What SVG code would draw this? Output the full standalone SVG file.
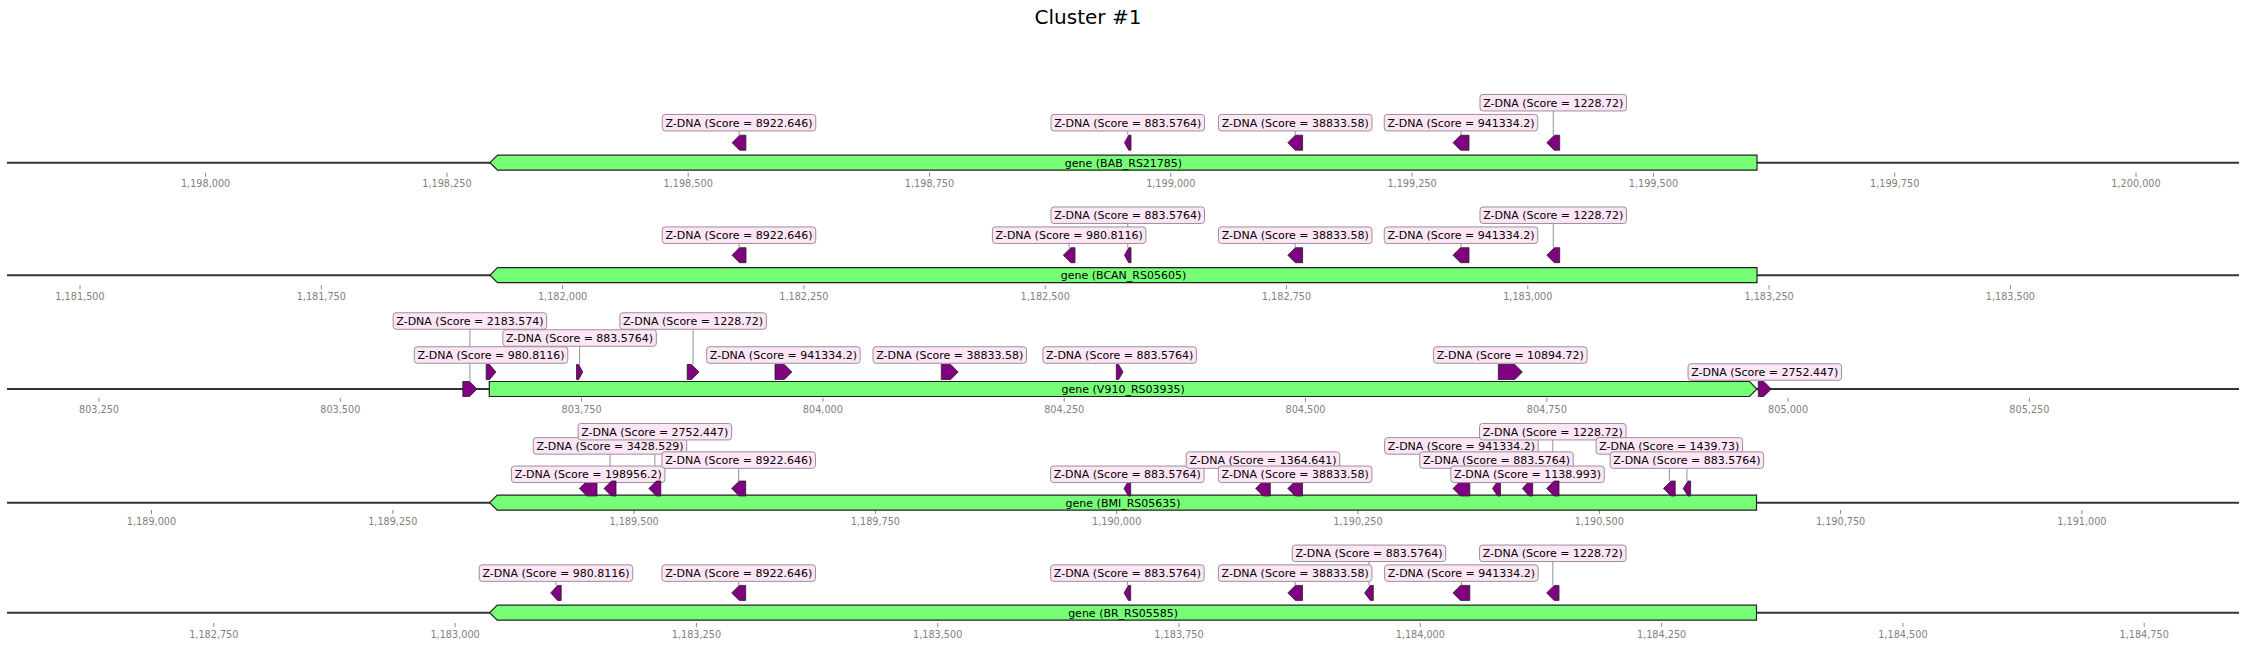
<svg xmlns="http://www.w3.org/2000/svg" width="2246" height="647" viewBox="0 0 2246 647">
<style>
text{font-family:"DejaVu Sans","Liberation Sans",sans-serif;}
.title{font-size:20px;fill:#000;text-anchor:middle;}
.axis{stroke:#333;stroke-width:2;fill:none;}
.tick{stroke:#888;stroke-width:1;}
.tl{font-size:9.7px;fill:#808080;text-anchor:middle;}
.gene{fill:#76ff76;stroke:#222;stroke-width:1.2;}
.gl{font-size:11px;fill:#000;text-anchor:middle;}
.feat{fill:#800080;stroke:#222;stroke-width:0.8;}
.box{fill:#ffe6f7;stroke:#9a8f99;stroke-width:1;}
.lt{font-size:11px;fill:#000;text-anchor:middle;}
.con{stroke:#777;stroke-width:0.8;}
</style>
<text class="title" x="1088" y="24">Cluster #1</text>

<g id="axes">
<line class="axis" x1="7" y1="162.7" x2="2239" y2="162.7"/>
<line class="axis" x1="7" y1="275.2" x2="2239" y2="275.2"/>
<line class="axis" x1="7" y1="389" x2="2239" y2="389"/>
<line class="axis" x1="7" y1="502.7" x2="2239" y2="502.7"/>
<line class="axis" x1="7" y1="612.7" x2="2239" y2="612.7"/>
</g>

<g id="ticks">
<g transform="translate(205.6,172.7)">
<path class="tick" d="M0,0v4M241.3,0v4M482.6,0v4M723.9,0v4M965.2,0v4M1206.5,0v4M1447.8,0v4M1689.1,0v4M1930.4,0v4"/>
<text class="tl" x="0" y="14.8">1,198,000</text><text class="tl" x="241.3" y="14.8">1,198,250</text><text class="tl" x="482.6" y="14.8">1,198,500</text><text class="tl" x="723.9" y="14.8">1,198,750</text><text class="tl" x="965.2" y="14.8">1,199,000</text><text class="tl" x="1206.5" y="14.8">1,199,250</text><text class="tl" x="1447.8" y="14.8">1,199,500</text><text class="tl" x="1689.1" y="14.8">1,199,750</text><text class="tl" x="1930.4" y="14.8">1,200,000</text>
</g>
<g transform="translate(80,285.2)">
<path class="tick" d="M0,0v4M241.3,0v4M482.6,0v4M723.9,0v4M965.2,0v4M1206.5,0v4M1447.8,0v4M1689.1,0v4M1930.4,0v4"/>
<text class="tl" x="0" y="14.8">1,181,500</text><text class="tl" x="241.3" y="14.8">1,181,750</text><text class="tl" x="482.6" y="14.8">1,182,000</text><text class="tl" x="723.9" y="14.8">1,182,250</text><text class="tl" x="965.2" y="14.8">1,182,500</text><text class="tl" x="1206.5" y="14.8">1,182,750</text><text class="tl" x="1447.8" y="14.8">1,183,000</text><text class="tl" x="1689.1" y="14.8">1,183,250</text><text class="tl" x="1930.4" y="14.8">1,183,500</text>
</g>
<g transform="translate(99,397.8)">
<path class="tick" d="M0,0v4M241.3,0v4M482.6,0v4M723.9,0v4M965.2,0v4M1206.5,0v4M1447.8,0v4M1689.1,0v4M1930.4,0v4"/>
<text class="tl" x="0" y="14.8">803,250</text><text class="tl" x="241.3" y="14.8">803,500</text><text class="tl" x="482.6" y="14.8">803,750</text><text class="tl" x="723.9" y="14.8">804,000</text><text class="tl" x="965.2" y="14.8">804,250</text><text class="tl" x="1206.5" y="14.8">804,500</text><text class="tl" x="1447.8" y="14.8">804,750</text><text class="tl" x="1689.1" y="14.8">805,000</text><text class="tl" x="1930.4" y="14.8">805,250</text>
</g>
<g transform="translate(151.5,510)">
<path class="tick" d="M0,0v4M241.3,0v4M482.6,0v4M723.9,0v4M965.2,0v4M1206.5,0v4M1447.8,0v4M1689.1,0v4M1930.4,0v4"/>
<text class="tl" x="0" y="14.8">1,189,000</text><text class="tl" x="241.3" y="14.8">1,189,250</text><text class="tl" x="482.6" y="14.8">1,189,500</text><text class="tl" x="723.9" y="14.8">1,189,750</text><text class="tl" x="965.2" y="14.8">1,190,000</text><text class="tl" x="1206.5" y="14.8">1,190,250</text><text class="tl" x="1447.8" y="14.8">1,190,500</text><text class="tl" x="1689.1" y="14.8">1,190,750</text><text class="tl" x="1930.4" y="14.8">1,191,000</text>
</g>
<g transform="translate(213.8,622.9)">
<path class="tick" d="M0,0v4M241.3,0v4M482.6,0v4M723.9,0v4M965.2,0v4M1206.5,0v4M1447.8,0v4M1689.1,0v4M1930.4,0v4"/>
<text class="tl" x="0" y="14.8">1,182,750</text><text class="tl" x="241.3" y="14.8">1,183,000</text><text class="tl" x="482.6" y="14.8">1,183,250</text><text class="tl" x="723.9" y="14.8">1,183,500</text><text class="tl" x="965.2" y="14.8">1,183,750</text><text class="tl" x="1206.5" y="14.8">1,184,000</text><text class="tl" x="1447.8" y="14.8">1,184,250</text><text class="tl" x="1689.1" y="14.8">1,184,500</text><text class="tl" x="1930.4" y="14.8">1,184,750</text>
</g>
</g>

<g id="connectors">
<line class="con" x1="739" y1="130.95" x2="739" y2="135.2"/>
<line class="con" x1="1127.75" y1="130.95" x2="1127.75" y2="135.2"/>
<line class="con" x1="1295.2" y1="130.95" x2="1295.2" y2="135.2"/>
<line class="con" x1="1461" y1="130.95" x2="1461" y2="135.2"/>
<line class="con" x1="1553.25" y1="110.95" x2="1553.25" y2="135.2"/>

<line class="con" x1="739" y1="243.45" x2="739" y2="247.7"/>
<line class="con" x1="1069.15" y1="243.45" x2="1069.15" y2="247.7"/>
<line class="con" x1="1127.75" y1="223.45" x2="1127.75" y2="247.7"/>
<line class="con" x1="1295.2" y1="243.45" x2="1295.2" y2="247.7"/>
<line class="con" x1="1461" y1="243.45" x2="1461" y2="247.7"/>
<line class="con" x1="1553.25" y1="223.45" x2="1553.25" y2="247.7"/>

<line class="con" x1="469.9" y1="329.25" x2="469.9" y2="381.5"/>
<line class="con" x1="579.6" y1="346.25" x2="579.6" y2="364.5"/>
<line class="con" x1="693.1" y1="329.25" x2="693.1" y2="364.5"/>

<line class="con" x1="610" y1="454.15" x2="610" y2="481"/>
<line class="con" x1="654.85" y1="439.95" x2="654.85" y2="481"/>
<line class="con" x1="738.7" y1="468.35" x2="738.7" y2="481"/>
<line class="con" x1="1263" y1="468.35" x2="1263" y2="481"/>
<line class="con" x1="1461.4" y1="454.15" x2="1461.4" y2="481"/>
<line class="con" x1="1496.5" y1="468.35" x2="1496.5" y2="481"/>
<line class="con" x1="1552.8" y1="439.95" x2="1552.8" y2="481"/>
<line class="con" x1="1669.35" y1="454.15" x2="1669.35" y2="481"/>
<line class="con" x1="1686.9" y1="468.35" x2="1686.9" y2="481"/>

<line class="con" x1="555.95" y1="581.35" x2="555.95" y2="585.4"/>
<line class="con" x1="738.7" y1="581.35" x2="738.7" y2="585.4"/>
<line class="con" x1="1127.4" y1="581.35" x2="1127.4" y2="585.4"/>
<line class="con" x1="1295.15" y1="581.35" x2="1295.15" y2="585.4"/>
<line class="con" x1="1368.95" y1="561.55" x2="1368.95" y2="585.4"/>
<line class="con" x1="1461.4" y1="581.35" x2="1461.4" y2="585.4"/>
<line class="con" x1="1552.8" y1="561.55" x2="1552.8" y2="585.4"/>
</g>

<!-- Row 1 -->
<g id="gene-BAB_RS21785">
<polygon class="gene" points="490,162.7 497.5,155.2 1757,155.2 1757,170.2 497.5,170.2"/>
<text class="gl" x="1123.5" y="166.5">gene (BAB_RS21785)</text>
</g>
<g id="r1-f1"><polygon class="feat" points="732.1,142.7 739.6,135.2 745.9,135.2 745.9,150.2 739.6,150.2"/><rect class="box" x="662.25" y="114.45" width="153.5" height="16.5" rx="3"/><text class="lt" x="739" y="126.5">Z-DNA (Score = 8922.646)</text></g>
<g id="r1-f2"><polygon class="feat" points="1124.5,142.7 1128.7,135.2 1131,135.2 1131,150.2 1128.7,150.2"/><rect class="box" x="1051" y="114.45" width="153.5" height="16.5" rx="3"/><text class="lt" x="1127.75" y="126.5">Z-DNA (Score = 883.5764)</text></g>
<g id="r1-f3"><polygon class="feat" points="1287.8,142.7 1295.3,135.2 1302.6,135.2 1302.6,150.2 1295.3,150.2"/><rect class="box" x="1218.45" y="114.45" width="153.5" height="16.5" rx="3"/><text class="lt" x="1295.2" y="126.5">Z-DNA (Score = 38833.58)</text></g>
<g id="r1-f4"><polygon class="feat" points="1453,142.7 1460.5,135.2 1469,135.2 1469,150.2 1460.5,150.2"/><rect class="box" x="1384.25" y="114.45" width="153.5" height="16.5" rx="3"/><text class="lt" x="1461" y="126.5">Z-DNA (Score = 941334.2)</text></g>
<g id="r1-f5"><polygon class="feat" points="1546.8,142.7 1554.3,135.2 1559.7,135.2 1559.7,150.2 1554.3,150.2"/><rect class="box" x="1480" y="94.45" width="146.5" height="16.5" rx="3"/><text class="lt" x="1553.25" y="106.5">Z-DNA (Score = 1228.72)</text></g>

<!-- Row 2 -->
<g id="gene-BCAN_RS05605">
<polygon class="gene" points="490,275.2 497.5,267.7 1757,267.7 1757,282.7 497.5,282.7"/>
<text class="gl" x="1123.5" y="279">gene (BCAN_RS05605)</text>
</g>
<g id="r2-f1"><polygon class="feat" points="732,255.2 739.5,247.7 746,247.7 746,262.7 739.5,262.7"/><rect class="box" x="662.25" y="226.95" width="153.5" height="16.5" rx="3"/><text class="lt" x="739" y="239">Z-DNA (Score = 8922.646)</text></g>
<g id="r2-f2"><polygon class="feat" points="1063.3,255.2 1070.8,247.7 1075,247.7 1075,262.7 1070.8,262.7"/><rect class="box" x="992.4" y="226.95" width="153.5" height="16.5" rx="3"/><text class="lt" x="1069.15" y="239">Z-DNA (Score = 980.8116)</text></g>
<g id="r2-f3"><polygon class="feat" points="1124.5,255.2 1128.7,247.7 1131,247.7 1131,262.7 1128.7,262.7"/><rect class="box" x="1051" y="206.95" width="153.5" height="16.5" rx="3"/><text class="lt" x="1127.75" y="219">Z-DNA (Score = 883.5764)</text></g>
<g id="r2-f4"><polygon class="feat" points="1287.8,255.2 1295.3,247.7 1302.6,247.7 1302.6,262.7 1295.3,262.7"/><rect class="box" x="1218.45" y="226.95" width="153.5" height="16.5" rx="3"/><text class="lt" x="1295.2" y="239">Z-DNA (Score = 38833.58)</text></g>
<g id="r2-f5"><polygon class="feat" points="1453,255.2 1460.5,247.7 1469,247.7 1469,262.7 1460.5,262.7"/><rect class="box" x="1384.25" y="226.95" width="153.5" height="16.5" rx="3"/><text class="lt" x="1461" y="239">Z-DNA (Score = 941334.2)</text></g>
<g id="r2-f6"><polygon class="feat" points="1546.8,255.2 1554.3,247.7 1559.7,247.7 1559.7,262.7 1554.3,262.7"/><rect class="box" x="1480" y="206.95" width="146.5" height="16.5" rx="3"/><text class="lt" x="1553.25" y="219">Z-DNA (Score = 1228.72)</text></g>

<!-- Row 3 -->
<g id="gene-V910_RS03935">
<polygon class="gene" points="489.3,381.5 1749.5,381.5 1757,389 1749.5,396.5 489.3,396.5"/>
<text class="gl" x="1123.2" y="392.8">gene (V910_RS03935)</text>
</g>
<g id="r3-f1"><polygon class="feat" points="462.8,381.5 469.5,381.5 477,389 469.5,396.5 462.8,396.5"/><rect class="box" x="393.15" y="312.75" width="153.5" height="16.5" rx="3"/><text class="lt" x="469.9" y="324.8">Z-DNA (Score = 2183.574)</text></g>
<g id="r3-f2"><polygon class="feat" points="486.2,364.5 489.6,364.5 495.9,372 489.6,379.5 486.2,379.5"/><rect class="box" x="414.3" y="346.75" width="153.5" height="16.5" rx="3"/><text class="lt" x="491.05" y="358.8">Z-DNA (Score = 980.8116)</text></g>
<g id="r3-f3"><polygon class="feat" points="576.5,364.5 578.7,364.5 582.7,372 578.7,379.5 576.5,379.5"/><rect class="box" x="502.85" y="329.75" width="153.5" height="16.5" rx="3"/><text class="lt" x="579.6" y="341.8">Z-DNA (Score = 883.5764)</text></g>
<g id="r3-f4"><polygon class="feat" points="687.2,364.5 691.5,364.5 699,372 691.5,379.5 687.2,379.5"/><rect class="box" x="619.85" y="312.75" width="146.5" height="16.5" rx="3"/><text class="lt" x="693.1" y="324.8">Z-DNA (Score = 1228.72)</text></g>
<g id="r3-f5"><polygon class="feat" points="775,364.5 784.3,364.5 791.8,372 784.3,379.5 775,379.5"/><rect class="box" x="706.65" y="346.75" width="153.5" height="16.5" rx="3"/><text class="lt" x="783.4" y="358.8">Z-DNA (Score = 941334.2)</text></g>
<g id="r3-f6"><polygon class="feat" points="941.3,364.5 950.7,364.5 958.2,372 950.7,379.5 941.3,379.5"/><rect class="box" x="873" y="346.75" width="153.5" height="16.5" rx="3"/><text class="lt" x="949.75" y="358.8">Z-DNA (Score = 38833.58)</text></g>
<g id="r3-f7"><polygon class="feat" points="1116.3,364.5 1118.6,364.5 1123,372 1118.6,379.5 1116.3,379.5"/><rect class="box" x="1042.9" y="346.75" width="153.5" height="16.5" rx="3"/><text class="lt" x="1119.65" y="358.8">Z-DNA (Score = 883.5764)</text></g>
<g id="r3-f8"><polygon class="feat" points="1498.3,364.5 1514.9,364.5 1522.4,372 1514.9,379.5 1498.3,379.5"/><rect class="box" x="1433.6" y="346.75" width="153.5" height="16.5" rx="3"/><text class="lt" x="1510.35" y="358.8">Z-DNA (Score = 10894.72)</text></g>
<g id="r3-f9"><polygon class="feat" points="1758.3,381.5 1763.8,381.5 1771.3,389 1763.8,396.5 1758.3,396.5"/><rect class="box" x="1688.05" y="363.75" width="153.5" height="16.5" rx="3"/><text class="lt" x="1764.8" y="375.8">Z-DNA (Score = 2752.447)</text></g>

<!-- Row 4 -->
<g id="gene-BMI_RS05635">
<polygon class="gene" points="489.7,502.7 497.2,495.2 1756.5,495.2 1756.5,510.2 497.2,510.2"/>
<text class="gl" x="1123.1" y="506.5">gene (BMI_RS05635)</text>
</g>
<g id="r4-f1"><polygon class="feat" points="579.4,488.5 586.9,481 597,481 597,496 586.9,496"/><rect class="box" x="511.45" y="466.05" width="153.5" height="16.5" rx="3"/><text class="lt" x="588.2" y="478.1">Z-DNA (Score = 198956.2)</text></g>
<g id="r4-f2"><polygon class="feat" points="604,488.5 611.5,481 616,481 616,496 611.5,496"/><rect class="box" x="533.25" y="437.65" width="153.5" height="16.5" rx="3"/><text class="lt" x="610" y="449.7">Z-DNA (Score = 3428.529)</text></g>
<g id="r4-f3"><polygon class="feat" points="648.9,488.5 656.4,481 660.8,481 660.8,496 656.4,496"/><rect class="box" x="578.1" y="423.45" width="153.5" height="16.5" rx="3"/><text class="lt" x="654.85" y="435.5">Z-DNA (Score = 2752.447)</text></g>
<g id="r4-f4"><polygon class="feat" points="731.7,488.5 739.2,481 745.7,481 745.7,496 739.2,496"/><rect class="box" x="661.95" y="451.85" width="153.5" height="16.5" rx="3"/><text class="lt" x="738.7" y="463.9">Z-DNA (Score = 8922.646)</text></g>
<g id="r4-f5"><polygon class="feat" points="1124,488.5 1128.4,481 1130.7,481 1130.7,496 1128.4,496"/><rect class="box" x="1050.6" y="466.05" width="153.5" height="16.5" rx="3"/><text class="lt" x="1127.35" y="478.1">Z-DNA (Score = 883.5764)</text></g>
<g id="r4-f6"><polygon class="feat" points="1255.7,488.5 1263.2,481 1270.3,481 1270.3,496 1263.2,496"/><rect class="box" x="1186.25" y="451.85" width="153.5" height="16.5" rx="3"/><text class="lt" x="1263" y="463.9">Z-DNA (Score = 1364.641)</text></g>
<g id="r4-f7"><polygon class="feat" points="1287.8,488.5 1295.3,481 1302.5,481 1302.5,496 1295.3,496"/><rect class="box" x="1218.4" y="466.05" width="153.5" height="16.5" rx="3"/><text class="lt" x="1295.15" y="478.1">Z-DNA (Score = 38833.58)</text></g>
<g id="r4-f8"><polygon class="feat" points="1453,488.5 1460.5,481 1469.8,481 1469.8,496 1460.5,496"/><rect class="box" x="1384.65" y="437.65" width="153.5" height="16.5" rx="3"/><text class="lt" x="1461.4" y="449.7">Z-DNA (Score = 941334.2)</text></g>
<g id="r4-f9"><polygon class="feat" points="1492.5,488.5 1497.7,481 1500.5,481 1500.5,496 1497.7,496"/><rect class="box" x="1419.75" y="451.85" width="153.5" height="16.5" rx="3"/><text class="lt" x="1496.5" y="463.9">Z-DNA (Score = 883.5764)</text></g>
<g id="r4-f10"><polygon class="feat" points="1522.4,488.5 1529.1,481 1532.7,481 1532.7,496 1529.1,496"/><rect class="box" x="1450.8" y="466.05" width="153.5" height="16.5" rx="3"/><text class="lt" x="1527.55" y="478.1">Z-DNA (Score = 1138.993)</text></g>
<g id="r4-f11"><polygon class="feat" points="1546.6,488.5 1554.1,481 1559,481 1559,496 1554.1,496"/><rect class="box" x="1479.55" y="423.45" width="146.5" height="16.5" rx="3"/><text class="lt" x="1552.8" y="435.5">Z-DNA (Score = 1228.72)</text></g>
<g id="r4-f12"><polygon class="feat" points="1663.5,488.5 1671,481 1675.2,481 1675.2,496 1671,496"/><rect class="box" x="1596.1" y="437.65" width="146.5" height="16.5" rx="3"/><text class="lt" x="1669.35" y="449.7">Z-DNA (Score = 1439.73)</text></g>
<g id="r4-f13"><polygon class="feat" points="1683.2,488.5 1688,481 1690.6,481 1690.6,496 1688,496"/><rect class="box" x="1610.15" y="451.85" width="153.5" height="16.5" rx="3"/><text class="lt" x="1686.9" y="463.9">Z-DNA (Score = 883.5764)</text></g>

<!-- Row 5 -->
<g id="gene-BR_RS05585">
<polygon class="gene" points="489.7,612.7 497.2,605.2 1756.5,605.2 1756.5,620.2 497.2,620.2"/>
<text class="gl" x="1123.1" y="616.5">gene (BR_RS05585)</text>
</g>
<g id="r5-f1"><polygon class="feat" points="550.7,592.9 557.5,585.4 561.2,585.4 561.2,600.4 557.5,600.4"/><rect class="box" x="479.2" y="564.85" width="153.5" height="16.5" rx="3"/><text class="lt" x="555.95" y="576.9">Z-DNA (Score = 980.8116)</text></g>
<g id="r5-f2"><polygon class="feat" points="731.7,592.9 739.2,585.4 745.7,585.4 745.7,600.4 739.2,600.4"/><rect class="box" x="661.95" y="564.85" width="153.5" height="16.5" rx="3"/><text class="lt" x="738.7" y="576.9">Z-DNA (Score = 8922.646)</text></g>
<g id="r5-f3"><polygon class="feat" points="1124.1,592.9 1128.4,585.4 1130.7,585.4 1130.7,600.4 1128.4,600.4"/><rect class="box" x="1050.65" y="564.85" width="153.5" height="16.5" rx="3"/><text class="lt" x="1127.4" y="576.9">Z-DNA (Score = 883.5764)</text></g>
<g id="r5-f4"><polygon class="feat" points="1287.8,592.9 1295.3,585.4 1302.5,585.4 1302.5,600.4 1295.3,600.4"/><rect class="box" x="1218.4" y="564.85" width="153.5" height="16.5" rx="3"/><text class="lt" x="1295.15" y="576.9">Z-DNA (Score = 38833.58)</text></g>
<g id="r5-f5"><polygon class="feat" points="1364.6,592.9 1370.3,585.4 1373.3,585.4 1373.3,600.4 1370.3,600.4"/><rect class="box" x="1292.2" y="545.05" width="153.5" height="16.5" rx="3"/><text class="lt" x="1368.95" y="557.1">Z-DNA (Score = 883.5764)</text></g>
<g id="r5-f6"><polygon class="feat" points="1453,592.9 1460.5,585.4 1469.8,585.4 1469.8,600.4 1460.5,600.4"/><rect class="box" x="1384.65" y="564.85" width="153.5" height="16.5" rx="3"/><text class="lt" x="1461.4" y="576.9">Z-DNA (Score = 941334.2)</text></g>
<g id="r5-f7"><polygon class="feat" points="1546.6,592.9 1554.1,585.4 1559,585.4 1559,600.4 1554.1,600.4"/><rect class="box" x="1479.55" y="545.05" width="146.5" height="16.5" rx="3"/><text class="lt" x="1552.8" y="557.1">Z-DNA (Score = 1228.72)</text></g>
</svg>
